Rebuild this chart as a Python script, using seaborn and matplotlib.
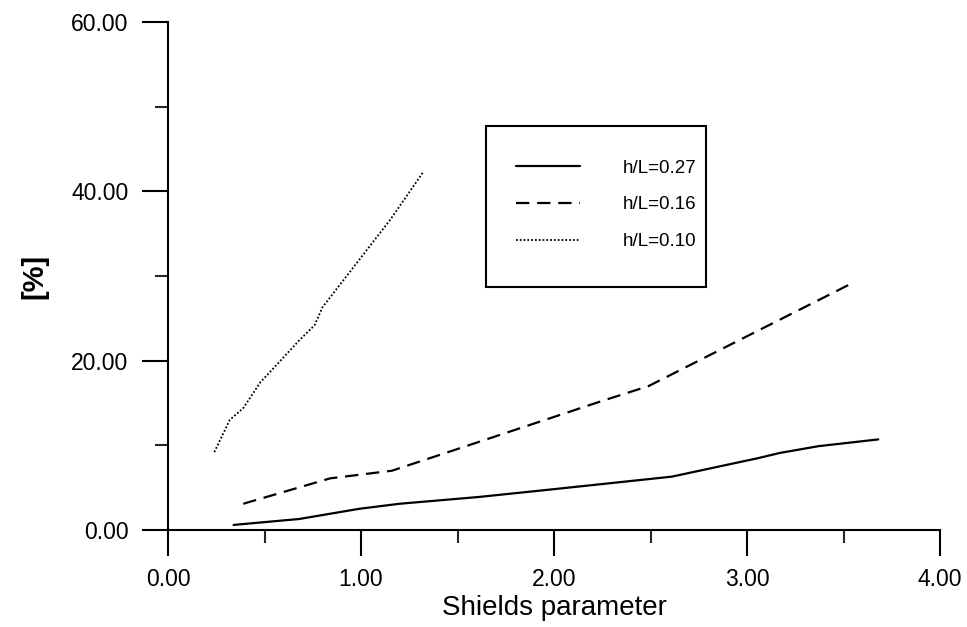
import pandas as pd
import matplotlib
matplotlib.use("Agg")
import matplotlib.pyplot as plt
import seaborn as sns
from matplotlib.patches import Rectangle
from matplotlib.ticker import MultipleLocator, FormatStrFormatter

# data
x_027 = [0.34, 0.68, 0.99, 1.20, 1.61, 1.99, 2.61, 3.06, 3.17, 3.37, 3.68]
y_027 = [0.6, 1.3, 2.5, 3.1, 3.9, 4.8, 6.3, 8.5, 9.1, 9.9, 10.7]

x_016 = [0.39, 0.84, 1.16, 1.61, 2.23, 2.49, 3.01, 3.54]
y_016 = [3.1, 6.1, 7.0, 10.4, 15.1, 17.0, 23.0, 29.1]

x_010 = [0.24, 0.32, 0.39, 0.48, 0.53, 0.68, 0.76, 0.80, 1.15, 1.32]
y_010 = [9.2, 13.0, 14.4, 17.5, 18.7, 22.4, 24.2, 26.3, 36.6, 42.2]

labels = ["h/L=0.27", "h/L=0.16", "h/L=0.10"]

frames = []
for lab, xs, ys in zip(labels, [x_027, x_016, x_010], [y_027, y_016, y_010]):
    frames.append(pd.DataFrame({"shields": xs, "pct": ys, "series": lab}))
df = pd.concat(frames, ignore_index=True)

sns.set_style("white")
plt.rcParams['font.family'] = ['Liberation Sans', 'DejaVu Sans']
plt.rcParams['text.color'] = 'black'
plt.rcParams['axes.labelcolor'] = 'black'

fig = plt.figure(figsize=(9.67, 6.27), dpi=100)
ax = fig.add_axes([168 / 967, 1 - 530 / 627, 772 / 967, 508 / 627])

dash_map = {"h/L=0.27": "", "h/L=0.16": (6, 3.5), "h/L=0.10": (1, 1.1)}
sns.lineplot(data=df, x="shields", y="pct", style="series", dashes=dash_map,
             color="black", linewidth=1.6, sort=False, estimator=None,
             legend=False, ax=ax)
# thinner dotted line
for line, lab in zip(ax.get_lines(), labels):
    if lab == "h/L=0.10":
        line.set_linewidth(1.3)

ax.set_xlim(0, 4)
ax.set_ylim(0, 60)
ax.xaxis.set_major_locator(MultipleLocator(1))
ax.xaxis.set_minor_locator(MultipleLocator(0.5))
ax.yaxis.set_major_locator(MultipleLocator(20))
ax.yaxis.set_minor_locator(MultipleLocator(10))
ax.xaxis.set_major_formatter(FormatStrFormatter('%.2f'))
ax.yaxis.set_major_formatter(FormatStrFormatter('%.2f'))

for s in ["top", "right"]:
    ax.spines[s].set_visible(False)
for s in ["left", "bottom"]:
    ax.spines[s].set_linewidth(1.5)
    ax.spines[s].set_color("black")

ax.tick_params(which="major", direction="out", length=18.5, width=1.5,
               labelsize=16.5, colors="black", bottom=True, left=True)
ax.tick_params(which="minor", direction="out", length=9.5, width=1.5,
               bottom=True, left=True)
ax.tick_params(axis="x", which="major", pad=9)
ax.tick_params(axis="y", which="major", pad=10)

ax.set_xlabel("Shields parameter", fontsize=20, labelpad=3)
ax.set_ylabel("[%]", fontsize=21, fontweight="bold", labelpad=16)

# legend: frame drawn by hand, entries placed inside
box = Rectangle((0.412, 0.478), 0.285, 0.317, transform=ax.transAxes,
                fill=False, edgecolor="black", linewidth=1.5, clip_on=False)
ax.add_patch(box)
handles = ax.get_lines()
ax.legend(handles, labels, loc="upper left", bbox_to_anchor=(0.439, 0.748),
          frameon=False, borderpad=0, handlelength=3.4,
          handletextpad=2.3, labelspacing=1.05,
          prop={"family": ["Liberation Sans Narrow", "Liberation Sans"],
                "size": 13.5})

plt.savefig("out.png", dpi=100)
